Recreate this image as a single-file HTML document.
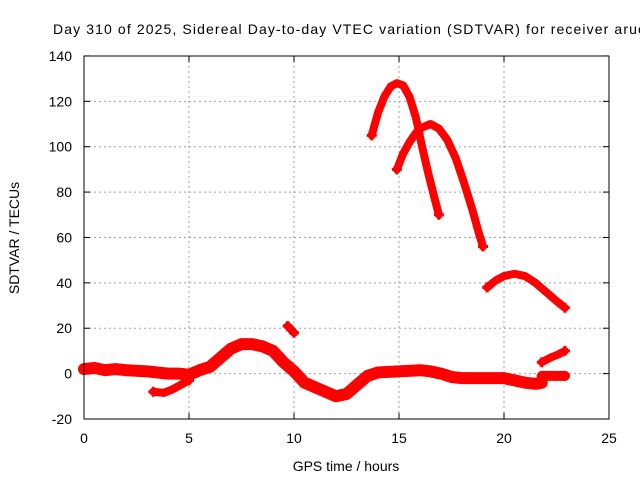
<!DOCTYPE html>
<html><head><meta charset="utf-8"><style>
body{margin:0;background:#fff;width:640px;height:480px;overflow:hidden}
svg text{font-family:"Liberation Sans",sans-serif;font-size:14px;fill:#000}
</style></head><body>
<svg id="chart" width="640" height="480" xmlns="http://www.w3.org/2000/svg">
<text x="53" y="34" textLength="592" lengthAdjust="spacing">Day 310 of 2025, Sidereal Day-to-day VTEC variation (SDTVAR) for receiver aruc</text>
<g id="grid"></g><g id="axes"></g><g id="series"></g>
<rect x="84" y="56" width="525" height="363" fill="none" stroke="#000" stroke-width="1"/>
<text x="346" y="471" text-anchor="middle">GPS time / hours</text>
<text transform="translate(19,238) rotate(-90)" text-anchor="middle">SDTVAR / TECUs</text>
</svg>
<script>
const xTicks=[0,5,10,15,20,25];
const yTicks=[-20,0,20,40,60,80,100,120,140];
const segArc1=[[13.7,105],[14.0,115],[14.3,122],[14.6,126.5],[14.9,128],[15.2,127],[15.5,122],[15.8,113],[16.1,100],[16.4,88],[16.7,77],[16.9,70]];
const segArc2=[[14.9,90],[15.2,97],[15.5,102],[15.8,106],[16.1,108.5],[16.5,110],[16.9,108],[17.3,103],[17.7,95],[18.1,84],[18.5,72],[18.8,62],[19.0,56]];
const segArc3=[[19.2,38],[19.6,41],[20.0,43],[20.5,44],[21.0,43],[21.5,40],[22.0,36],[22.5,32],[22.9,29]];
const segRise=[[21.8,5],[22.2,7],[22.6,8.5],[22.9,10]];
const segShort=[[9.7,21],[10.0,18]];
const segDip=[[3.3,-8],[3.8,-8.5],[4.2,-7],[4.6,-5],[5.0,-3]];
const segTail=[[21.8,-1],[22.3,-1],[22.9,-1]];
const segMain=[[0,2],[0.5,2.5],[1,1.5],[1.5,2],[2,1.5],[3,1],[4,0],[4.5,0],[5,-0.5],[5.5,1.5],[6,3],[6.5,7],[7,11],[7.5,13],[8,13],[8.5,12],[9,10],[9.5,5],[10,1],[10.5,-4],[11,-6],[11.5,-8],[12,-10],[12.5,-9],[13,-5],[13.5,-1],[14,0.5],[15,1],[16,1.5],[16.5,1],[17,0],[17.5,-1.5],[18,-2],[19,-2],[20,-2],[20.5,-3],[21,-4],[21.5,-4.5],[21.8,-4]];
const X=v=>84+v*21, Y=v=>373.6-v*2.269;
const NS="http://www.w3.org/2000/svg";
function mk(t,a,p){const e=document.createElementNS(NS,t);for(const k in a)e.setAttribute(k,a[k]);p.appendChild(e);return e;}
const grid=document.getElementById('grid'),axes=document.getElementById('axes'),ser=document.getElementById('series');
xTicks.forEach(v=>{
 if(v>0&&v<25){const g=mk('line',{x1:X(v),x2:X(v),y1:56,y2:419,stroke:'#a0a0a0','stroke-dasharray':'2,3'},grid);
 
 }
 mk('line',{x1:X(v),x2:X(v),y1:419,y2:413,stroke:'#000'},axes);
 mk('line',{x1:X(v),x2:X(v),y1:56,y2:62,stroke:'#000'},axes);
 const t=mk('text',{x:X(v),y:443,'text-anchor':'middle'},axes);t.textContent=v;
 
 
});
yTicks.forEach(v=>{
 if(v>-20&&v<140){const g=mk('line',{x1:84,x2:609,y1:Y(v),y2:Y(v),stroke:'#a0a0a0','stroke-dasharray':'2,3'},grid);
 
 }
 mk('line',{x1:84,x2:90,y1:Y(v),y2:Y(v),stroke:'#000'},axes);
 mk('line',{x1:603,x2:609,y1:Y(v),y2:Y(v),stroke:'#000'},axes);
 const t=mk('text',{x:72,y:Y(v)+5,'text-anchor':'end'},axes);t.textContent=v;
 
 
});
const segs=[[segMain,12],[segArc1,8],[segArc2,8],[segArc3,8],[segRise,8],[segShort,8],[segDip,8],[segTail,10]];
segs.forEach(([s,w],i)=>{
 const p=mk('polyline',{points:s.map(d=>X(d[0])+','+Y(d[1])).join(' '),fill:'none',stroke:'#f00','stroke-width':w,'stroke-linejoin':'round','stroke-linecap':'round'},ser);
 
 
 [s[0],s[s.length-1]].forEach(d=>{
  mk('path',{d:`M${X(d[0])-5},${Y(d[1])}h10M${X(d[0])},${Y(d[1])-5}v10`,stroke:'#f00','stroke-width':3},ser);
 });
});
</script>
</body></html>
